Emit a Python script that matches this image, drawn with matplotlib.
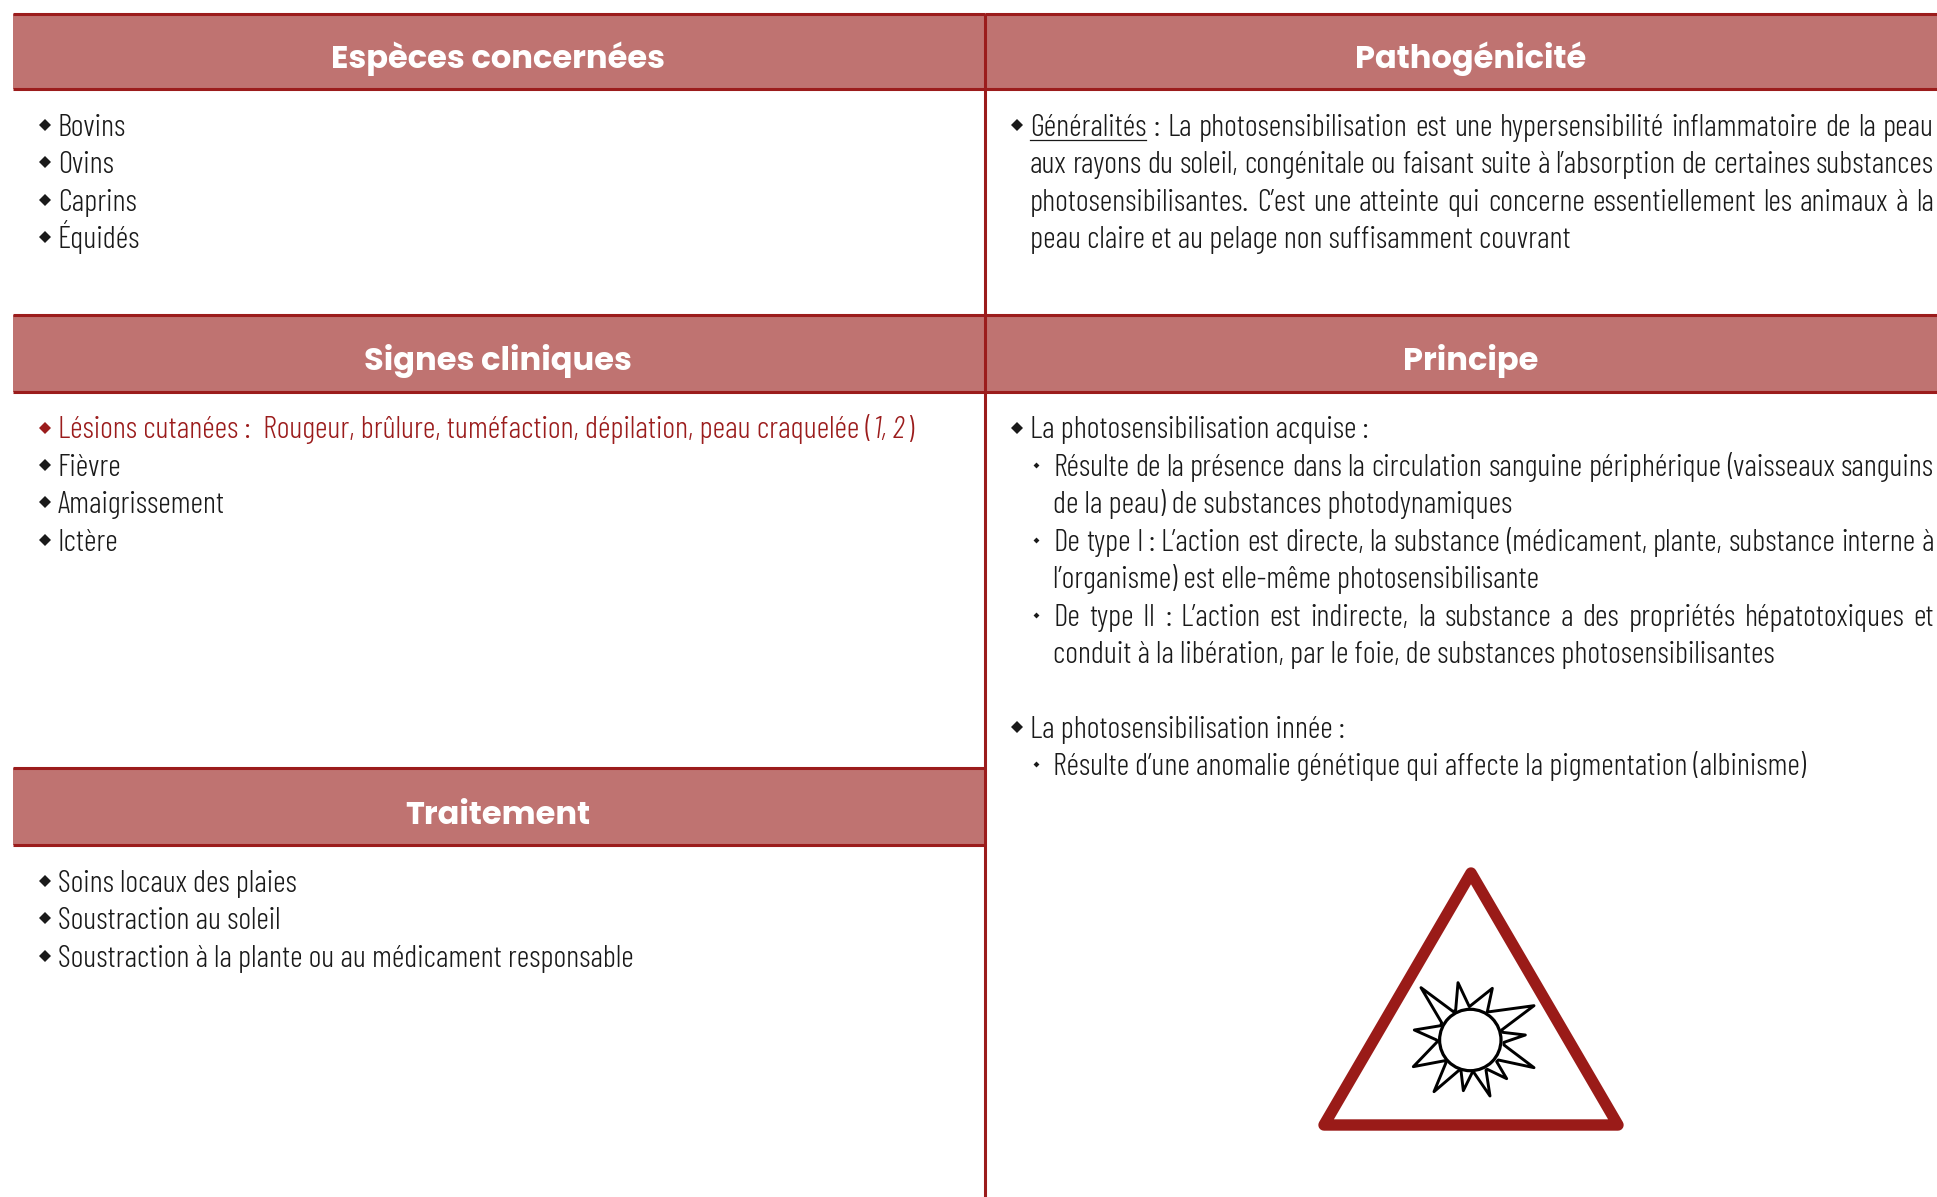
import matplotlib
matplotlib.use("Agg")
import matplotlib.pyplot as plt
from matplotlib.patches import Rectangle, Polygon, Circle

# texts of the sheet
titles = ["Espèces concernées", "Pathogénicité", "Signes cliniques", "Principe", "Traitement"]
especes = ["Bovins", "Ovins", "Caprins", "Équidés"]
generalites = ["Généralités : La photosensibilisation est une hypersensibilité inflammatoire de la peau",
               "aux rayons du soleil, congénitale ou faisant suite à l’absorption de certaines substances",
               "photosensibilisantes. C’est une atteinte qui concerne essentiellement les animaux à la",
               "peau claire et au pelage non suffisamment couvrant"]
signes = ["Fièvre", "Amaigrissement", "Ictère"]
lesion = ["Lésions cutanées :  Rougeur, brûlure, tuméfaction, dépilation, peau craquelée (", "1, 2", ")"]
traitement = ["Soins locaux des plaies", "Soustraction au soleil",
              "Soustraction à la plante ou au médicament responsable"]
# (text, level, justified, line number)
principe = [("La photosensibilisation acquise :", 0, False, 0),
            ("Résulte de la présence dans la circulation sanguine périphérique (vaisseaux sanguins", 1, True, 1),
            ("de la peau) de substances photodynamiques", 2, False, 2),
            ("De type I : L’action est directe, la substance (médicament, plante, substance interne à", 1, True, 3),
            ("l’organisme) est elle-même photosensibilisante", 2, False, 4),
            ("De type II : L’action est indirecte, la substance a des propriétés hépatotoxiques et", 1, True, 5),
            ("conduit à la libération, par le foie, de substances photosensibilisantes", 2, False, 6),
            ("La photosensibilisation innée :", 0, False, 8),
            ("Résulte d’une anomalie génétique qui affecte la pigmentation (albinisme)", 1, False, 9)]

# sun icon, picture pixels
rays = [(470, 600), (403, 570), (482, 557), (485, 548), (423, 443), (520, 515), (527, 510), (534, 428),
        (568, 500), (637, 445), (622, 515), (630, 515), (762, 497), (665, 570), (668, 577), (736, 585),
        (672, 607), (672, 615), (762, 683), (655, 660), (650, 665), (680, 716), (622, 688), (618, 690),
        (630, 768), (580, 695), (578, 695), (550, 752), (543, 692), (538, 690), (462, 755), (498, 668),
        (495, 662), (400, 680), (472, 605)]

W, H = 1937, 1197
RED = "#9b1c1c"
HEAD = "#bf7371"
INK = "#1a1a1a"
BODY = ["Barlow Condensed", "DejaVu Sans"]
SIZE = 22.25
STEP = 37.4

fig = plt.figure(figsize=(W / 100, H / 100), dpi=100)
ax = fig.add_axes([0, 0, 1, 1])
ax.set_xlim(0, W)
ax.set_ylim(H, 0)
ax.axis("off")
renderer = fig.canvas.get_renderer()


def header(x0, x1, cx, top, bottom, base, label):
    ax.add_patch(Rectangle((x0, top), x1 - x0, bottom - top, color=HEAD, lw=0, zorder=1))
    ax.plot([x0, x1], [top, top], color=RED, lw=2.2, solid_capstyle="butt", zorder=2)
    ax.plot([x0, x1], [bottom, bottom], color=RED, lw=2.2, solid_capstyle="butt", zorder=2)
    ax.text(cx, base, label, color="white", fontsize=23.1, ha="center", va="baseline",
            family=["Poppins", "Inter", "DejaVu Sans"], fontweight="bold", zorder=3)


def put(x, y, s, color=INK, style="normal", size=SIZE):
    return ax.text(x, y, s, color=color, fontsize=size, family=BODY, fontweight=300, style=style,
                   ha="left", va="baseline", zorder=3)


def width(t):
    return t.get_window_extent(renderer).width


def bullet(x, y, small=False, color=INK):
    ax.plot([x], [y - 10], marker="D", ms=3 if small else 6, color=color, mew=0, zorder=3)


def justified(x, y, s, right):
    words = s.split(" ")
    arts = [put(x, y, w) for w in words]
    gap = (right - x - sum(width(a) for a in arts)) / (len(words) - 1)
    for a in arts:
        a.set_x(x)
        x += width(a) + gap
    return arts


# frames and headers
LEFT, MID = 13, 984.5
CL, CR = 498, 1471
header(LEFT, MID, CL, 13.6, 89, 67.7, titles[0])
header(MID, W, CR, 13.6, 89, 67.7, titles[1])
header(LEFT, MID, CL, 315, 391.6, 370.5, titles[2])
header(MID, W, CR, 315, 391.6, 370.5, titles[3])
header(LEFT, MID, CL, 768, 845, 823.7, titles[4])
ax.plot([MID, MID], [13.6, H], color=RED, lw=2.2, solid_capstyle="butt", zorder=4)

# left column
LX, LB = 58, 45
BASE1, BASE2, BASE3 = 136, 438.5, 892
for i, s in enumerate(especes):
    bullet(LB, BASE1 + i * STEP - 1)
    put(LX, BASE1 + i * STEP, s)

bullet(LB, BASE2 - 1, color=RED)
xx = LX
for s, st in zip(lesion, ["normal", "italic", "normal"]):
    t = put(xx, BASE2, s, color=RED, style=st, size=SIZE * 1.005)
    xx += width(t) + (3 if st == "italic" else 2)
for i, s in enumerate(signes):
    bullet(LB, BASE2 + (i + 1) * STEP - 1)
    put(LX, BASE2 + (i + 1) * STEP, s)

for i, s in enumerate(traitement):
    bullet(LB, BASE3 + i * STEP - 1)
    put(LX, BASE3 + i * STEP, s)

# right column
RX, RB, SX, SB, RIGHT = 1030, 1017, 1053, 1036, 1934
bullet(RB, BASE1 - 1)
for i, s in enumerate(generalites):
    y = BASE1 + i * STEP
    if i < 3:
        arts = justified(RX, y, s, RIGHT)
        if i == 0:
            x0 = arts[0].get_position()[0]
            ax.plot([x0, x0 + width(arts[0])], [y + 4, y + 4], color=INK, lw=0.9, zorder=3)
    else:
        put(RX, y, s)

for s, level, just, n in principe:
    y = BASE2 + n * STEP
    if level == 0:
        bullet(RB, y - 1)
        put(RX, y, s)
    else:
        if level == 1:
            bullet(SB, y - 1, small=True)
        if just:
            justified(SX, y, s, RIGHT)
        else:
            put(SX, y, s)

# warning sign
ax.add_patch(Polygon([(1324, 1125), (1471, 873), (1618, 1125)], closed=True, fill=False, ec="#9a1b18",
                     lw=8.2, joinstyle="round", zorder=3))
sun = [(1280 + px / 3, 840 + py / 3) for px, py in rays]
ax.add_patch(Polygon(sun, closed=True, fc="white", ec="black", lw=2.1, joinstyle="round", zorder=3))
ax.add_patch(Circle((1470.3, 1040), 30.7, fc="white", ec="black", lw=2.3, zorder=4))

fig.savefig("out.png", dpi=100)
